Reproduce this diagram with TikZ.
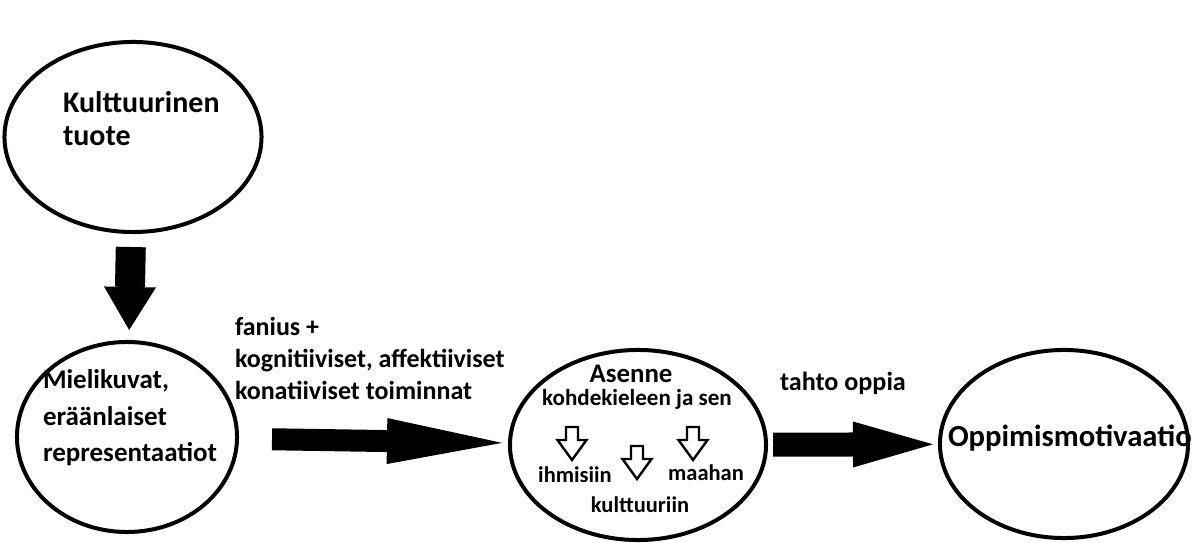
\documentclass[tikz,border=0pt]{standalone}
\usepackage{fontspec}
\setmainfont{Carlito}
\usepackage{tikz}
\usetikzlibrary{arrows.meta,shapes.geometric}

% small open arrow inside the attitude ellipse, #1 = centre x, #2 = top y
\newcommand{\hollowarrow}[2]{\draw[line width=0.06cm,line join=miter] (#1-6,#2) -- ++(0,13) -- ++(-8.5,0) -- ++(14.5,20) -- ++(14.5,-20) -- ++(-8.5,0) -- ++(0,-13) -- cycle;}

\begin{document}
\begin{tikzpicture}[x=0.025cm,y=-0.025cm,
		ellip/.style={ellipse,draw,line width=0.1cm,inner sep=0pt,outer sep=0pt},
		txt/.style={inner sep=0pt,outer sep=0pt,align=left},
		fat/.style={draw,line width=#1}]
	\useasboundingbox (0,0) rectangle (1193,543);

	\node[ellip,minimum width=6.425cm,minimum height=4.75cm] (tuote) at (133,137) {};
	\node[ellip,minimum width=5.5cm,minimum height=4.75cm] (mielikuvat) at (127,437) {};
	\node[ellip,minimum width=6.4cm,minimum height=4.75cm] (asenne) at (638,445) {};
	\node[ellip,minimum width=6.2cm,minimum height=4.7cm] (motivaatio) at (1064,444) {};

	% base of a multi-line node = baseline of its last line
	\node[txt,anchor=base west,font=\fontsize{21.3}{23.5}\bfseries\selectfont] (tuotetxt) at (63,146) {Kulttuurinen\\tuote};
	\node[txt,anchor=base west,font=\fontsize{19.2}{26}\bfseries\selectfont] (mielitxt) at (43,462) {Mielikuvat,\\eräänlaiset\\representaatiot};
	\node[txt,anchor=base west,font=\fontsize{18.5}{23.1}\bfseries\selectfont] (fanius) at (235,400) {fanius +\\kognitiiviset, affektiiviset\\konatiiviset toiminnat};
	\node[txt,anchor=base,font=\fontsize{19.1}{22}\bfseries\selectfont] (asennetxt) at (631,383) {Asenne};
	\node[txt,anchor=base,font=\fontsize{16.4}{19}\bfseries\selectfont] (kohde) at (637,406) {kohdekieleen ja sen};
	\node[txt,anchor=base,font=\fontsize{16}{19}\bfseries\selectfont] (ihmisiin) at (575,483) {ihmisiin};
	\node[txt,anchor=base,font=\fontsize{16}{19}\bfseries\selectfont] (maahan) at (706,481) {maahan};
	\node[txt,anchor=base,font=\fontsize{16}{19}\bfseries\selectfont] (kulttuuriin) at (640,513) {kulttuuriin};
	\node[txt,anchor=base west,font=\fontsize{18.6}{22}\bfseries\selectfont] (tahto) at (780,391) {tahto oppia};
	\node[txt,anchor=base west,font=\fontsize{21.8}{25}\bfseries\selectfont] (motivtxt) at (948,447) {Oppimismotivaatio};

	\hollowarrow{572}{427}
	\hollowarrow{637}{446}
	\hollowarrow{693}{427}

	\draw[fat=0.75cm,-{Triangle[length=1.075cm,width=1.3cm,line width=0pt]},shorten <=0.375cm,shorten >=0.3cm] (tuote) -- (mielikuvat);
	\draw[fat=0.55cm,-{Triangle[length=2.875cm,width=1.15cm,line width=0pt]},shorten <=0.875cm,shorten >=0.2cm] (mielikuvat) -- (asenne);
	\draw[fat=0.6cm,-{Triangle[length=2cm,width=1.15cm,line width=0pt]},shorten <=0.175cm,shorten >=0.175cm] (asenne) -- (motivaatio);
\end{tikzpicture}
\end{document}
